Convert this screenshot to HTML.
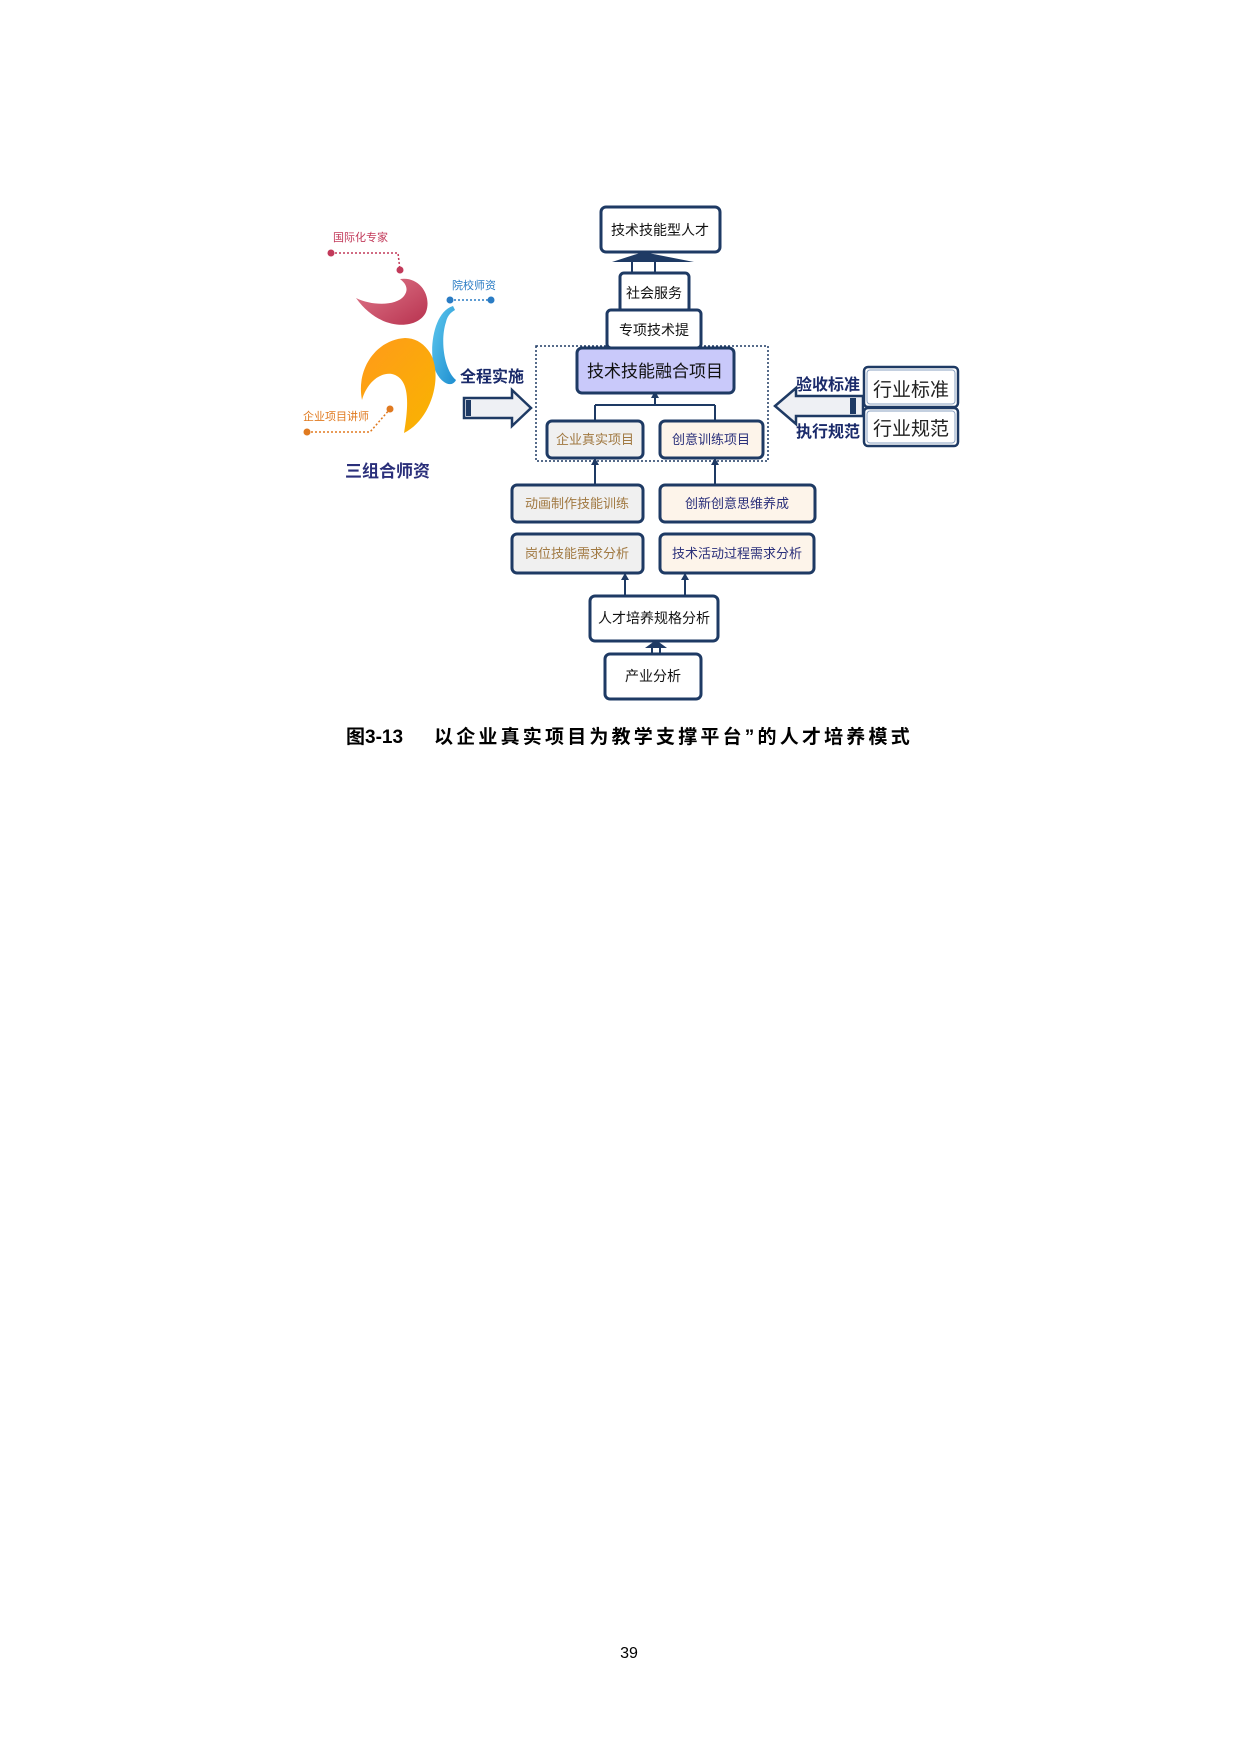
<!DOCTYPE html>
<html><head><meta charset="utf-8"><style>
html,body{margin:0;padding:0;background:#fff}
svg{display:block}
text{font-family:"Liberation Sans","Noto Sans CJK SC",sans-serif}
</style></head><body>
<svg width="1240" height="1753" viewBox="0 0 1240 1753" xmlns="http://www.w3.org/2000/svg">
<defs>
<linearGradient id="red" x1="0" y1="0" x2="1" y2="1"><stop offset="0" stop-color="#e07a8c"/><stop offset="1" stop-color="#b8324f"/></linearGradient>
<linearGradient id="blue" x1="0" y1="0" x2="1" y2="1"><stop offset="0" stop-color="#5ec8ee"/><stop offset="1" stop-color="#1e8ed0"/></linearGradient>
<linearGradient id="org" x1="0" y1="0" x2="1" y2="1"><stop offset="0" stop-color="#ff9a1a"/><stop offset="1" stop-color="#f9b400"/></linearGradient>
</defs>
<g fill="none" stroke-width="1.5" stroke-dasharray="2,2">
<path d="M331 253 H398 L400 270" stroke="#c23a5a"/>
<path d="M450 300 H491" stroke="#2a7cc4"/>
<path d="M307 432 H370 L390 409" stroke="#e07a20"/>
</g>
<circle cx="331" cy="253" r="3.5" fill="#c23a5a"/><circle cx="400" cy="270" r="3.5" fill="#c23a5a"/>
<circle cx="450" cy="300" r="3.5" fill="#2a7cc4"/><circle cx="491" cy="300" r="3.5" fill="#2a7cc4"/>
<circle cx="307" cy="432" r="3.5" fill="#e07a20"/><circle cx="390" cy="409" r="3.5" fill="#e07a20"/>
<path d="M400 279 C420 276 432 296 426 312 C418 330 380 332 356 298 C372 306 396 306 404 296 C410 288 404 282 400 279 Z" fill="url(#red)"/>
<path d="M453 306 C432 312 428 356 436 372 C442 384 452 388 456 380 C444 370 440 340 446 322 C448 314 452 312 455 310 Z" fill="url(#blue)"/>
<path d="M405 338 C375 340 356 370 362 400 C366 385 378 372 392 374 C408 378 410 398 404 433 C434 418 444 370 428 350 C422 342 414 338 405 338 Z" fill="url(#org)"/>
<text x="333" y="241" font-size="11" fill="#c23a5a">国际化专家</text>
<text x="452" y="289" font-size="11" fill="#2a7cc4">院校师资</text>
<text x="303" y="420" font-size="11" fill="#e07a20">企业项目讲师</text>
<text x="345" y="477" font-size="17" font-weight="bold" fill="#2a2f7a">三组合师资</text>
<text x="460" y="382" font-size="16" font-weight="bold" fill="#1a2a6a">全程实施</text>
<path d="M464 398 H512 V390 L531 408 L512 426 V418 H464 Z" fill="#eef0f4" stroke="#1e3a64" stroke-width="2.5"/>
<rect x="466" y="400" width="5" height="16" fill="#1e3a64"/>
<text x="796" y="390" font-size="16" font-weight="bold" fill="#1a2a6a">验收标准</text>
<text x="796" y="437" font-size="16" font-weight="bold" fill="#1a2a6a">执行规范</text>
<path d="M863 396 H796 V388 L775 406 L796 424 V416 H863 Z" fill="#eef0f4" stroke="#1e3a64" stroke-width="2.5"/>
<rect x="850" y="398" width="6" height="16" fill="#1e3a64"/>
<g stroke="#1e3a64" stroke-width="2.5">
<rect x="864" y="367" width="94" height="40" rx="4" fill="#fff"/>
<rect x="864" y="408" width="94" height="38" rx="4" fill="#fff"/>
</g>
<rect x="867" y="370" width="88" height="34" rx="3" fill="none" stroke="#8aa0c0" stroke-width="1"/>
<rect x="867" y="411" width="88" height="32" rx="3" fill="none" stroke="#8aa0c0" stroke-width="1"/>
<text x="911" y="396" font-size="19" text-anchor="middle" fill="#222">行业标准</text>
<text x="911" y="435" font-size="19" text-anchor="middle" fill="#222">行业规范</text>
<rect x="536" y="346" width="232" height="115" fill="none" stroke="#1e3a64" stroke-width="1.5" stroke-dasharray="2,2"/>
<g stroke="#1e3a64" stroke-width="2" fill="none">
<path d="M655 393 V405 M595 405 H715 M595 405 V420 M715 405 V420"/>
<path d="M595 484 V460 M715 484 V460"/>
<path d="M625 595 V575 M685 595 V575"/>
<path d="M652 653 V645 M660 653 V645"/>
<path d="M632 273 V260 M655 273 V260"/>
</g>
<g fill="#1e3a64">
<path d="M655 391 l-4 7 h8z M595 418 l-4 7 h8z M715 418 l-4 7 h8z"/>
<path d="M595 458 l-4 7 h8z M715 458 l-4 7 h8z"/>
<path d="M625 573 l-4 7 h8z M685 573 l-4 7 h8z"/>
<path d="M645 648 L656 640 L667 648 Z"/>
<path d="M612 262 L643 252 L694 262 Z"/>
</g>
<g stroke="#1e3a64" stroke-width="3">
<rect x="601" y="207" width="119" height="45" rx="5" fill="#fff"/>
<rect x="620" y="273" width="69" height="39" rx="4" fill="#fff"/>
<rect x="607" y="310" width="94" height="38" rx="4" fill="#fff"/>
<rect x="577" y="348" width="157" height="45" rx="5" fill="#c9c9fa"/>
<rect x="547" y="421" width="96" height="37" rx="5" fill="#f0f0f0"/>
<rect x="660" y="421" width="103" height="37" rx="5" fill="#fdf4ea"/>
<rect x="512" y="485" width="131" height="37" rx="5" fill="#f0f0f0"/>
<rect x="660" y="485" width="155" height="37" rx="5" fill="#fdf4ea"/>
<rect x="512" y="534" width="131" height="39" rx="5" fill="#f0f0f0"/>
<rect x="660" y="534" width="154" height="39" rx="5" fill="#fdf4ea"/>
<rect x="590" y="596" width="128" height="45" rx="5" fill="#fff"/>
<rect x="605" y="654" width="96" height="45" rx="5" fill="#fff"/>
</g>
<g font-size="14" text-anchor="middle" fill="#111">
<text x="660" y="235">技术技能型人才</text>
<text x="654" y="298">社会服务</text>
<text x="654" y="335">专项技术提</text>
<text x="655" y="377" font-size="17">技术技能融合项目</text>
<text x="595" y="444" font-size="13" fill="#a07840">企业真实项目</text>
<text x="711" y="444" font-size="13" fill="#2a2f7a">创意训练项目</text>
<text x="577" y="508" font-size="13" fill="#a07840">动画制作技能训练</text>
<text x="737" y="508" font-size="13" fill="#2a2f7a">创新创意思维养成</text>
<text x="577" y="558" font-size="13" fill="#a07840">岗位技能需求分析</text>
<text x="737" y="558" font-size="13" fill="#2a2f7a">技术活动过程需求分析</text>
<text x="654" y="623">人才培养规格分析</text>
<text x="653" y="681">产业分析</text>
</g>
<text x="346" y="743" font-size="19" font-weight="bold" fill="#000">图3-13</text>
<text x="434" y="743" font-size="19" font-weight="bold" fill="#000" letter-spacing="3.2">以企业真实项目为教学支撑平台”的人才培养模式</text>
<text x="629" y="1658" font-size="16" text-anchor="middle" fill="#000" font-family="Liberation Serif">39</text>
</svg>
</body></html>
